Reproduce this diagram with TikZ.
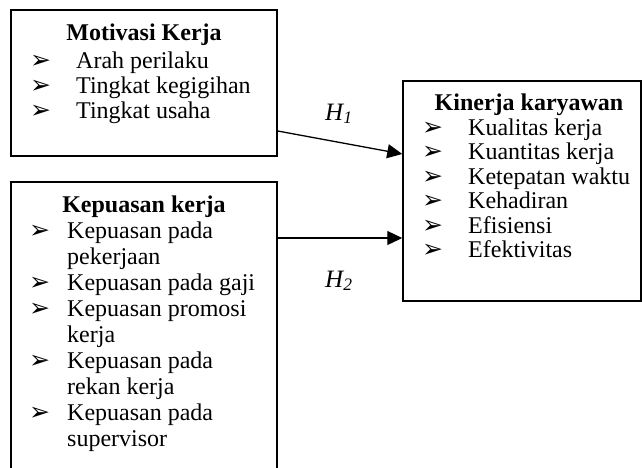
\documentclass[tikz,border=0pt]{standalone}
\usepackage{fontspec}
\setmainfont{Liberation Serif}
\newfontfamily\dejavu{DejaVu Sans}
\usetikzlibrary{arrows.meta}
\begin{document}
\begin{tikzpicture}[x=1pt,y=-1pt,
  box/.style={draw, line width=1.5pt, inner sep=0pt, rectangle},
  txt/.style={anchor=base west, inner sep=0pt, font=\fontsize{24}{25}\selectfont},
  ttl/.style={anchor=base, inner sep=0pt, font=\fontsize{24}{25}\selectfont\bfseries},
  bul/.style={anchor=base west, inner sep=0pt, text height=10pt, text depth=0pt, font=\dejavu\fontsize{25}{25}\selectfont},
  hl/.style={anchor=base west, inner sep=0pt, font=\fontsize{25}{25}\selectfont\itshape},
  arr/.style={line width=1.3pt, -{Triangle[length=15pt,width=14pt]}}]
\useasboundingbox (0,0) rectangle (642,467);
% boxes
\node[box, minimum width=266pt, minimum height=146pt] (mk) at (144,83) {};
\node[box, minimum width=266pt, minimum height=298pt] (ks) at (144,331) {};
\node[box, minimum width=238pt, minimum height=220pt] (kk) at (522,191) {};
% Motivasi Kerja
\node[ttl] (mkt) at (144,40) {Motivasi Kerja};
\node[bul] (mkb1) at (30,68) {➢};
\node[bul] (mkb2) at (30,93) {➢};
\node[bul] (mkb3) at (30,118) {➢};
\node[txt] (mk1) at (76,68) {Arah perilaku};
\node[txt] (mk2) at (76,93) {Tingkat kegigihan};
\node[txt] (mk3) at (76,118) {Tingkat usaha};
% Kepuasan kerja
\node[ttl] (kst) at (144,212) {Kepuasan kerja};
\node[bul] (ksb1) at (29,238) {➢};
\node[bul] (ksb2) at (29,290) {➢};
\node[bul] (ksb3) at (29,316) {➢};
\node[bul] (ksb4) at (29,368) {➢};
\node[bul] (ksb5) at (29,420) {➢};
\node[txt] (ks1) at (67,238) {Kepuasan pada};
\node[txt] (ks2) at (67,264) {pekerjaan};
\node[txt] (ks3) at (67,290) {Kepuasan pada gaji};
\node[txt] (ks4) at (67,316) {Kepuasan promosi};
\node[txt] (ks5) at (67,342) {kerja};
\node[txt] (ks6) at (67,368) {Kepuasan pada};
\node[txt] (ks7) at (67,394) {rekan kerja};
\node[txt] (ks8) at (67,420) {Kepuasan pada};
\node[txt] (ks9) at (67,446) {supervisor};
% Kinerja karyawan
\node[ttl] (kkt) at (529,110) {Kinerja karyawan};
\node[bul] (kkb1) at (422,135) {➢};
\node[bul] (kkb2) at (422,159.5) {➢};
\node[bul] (kkb3) at (422,184) {➢};
\node[bul] (kkb4) at (422,208.5) {➢};
\node[bul] (kkb5) at (422,233) {➢};
\node[bul] (kkb6) at (422,257.5) {➢};
\node[txt] (kk1) at (468,135) {Kualitas kerja};
\node[txt] (kk2) at (468,159.5) {Kuantitas kerja};
\node[txt] (kk3) at (468,184) {Ketepatan waktu};
\node[txt] (kk4) at (468,208.5) {Kehadiran};
\node[txt] (kk5) at (468,233) {Efisiensi};
\node[txt] (kk6) at (468,257.5) {Efektivitas};
% arrows
\coordinate (e1) at ([yshift=37pt]kk.west);
\coordinate (e2) at ([yshift=-47pt]kk.west);
\draw[arr] ([yshift=-48pt]mk.east) -- (e1);
\draw[arr] (ks.east |- e2) -- (e2);
\node[hl] (h1) at (325,120) {H\textsubscript{1}};
\node[hl] (h2) at (325,287) {H\textsubscript{2}};
\end{tikzpicture}
\end{document}
